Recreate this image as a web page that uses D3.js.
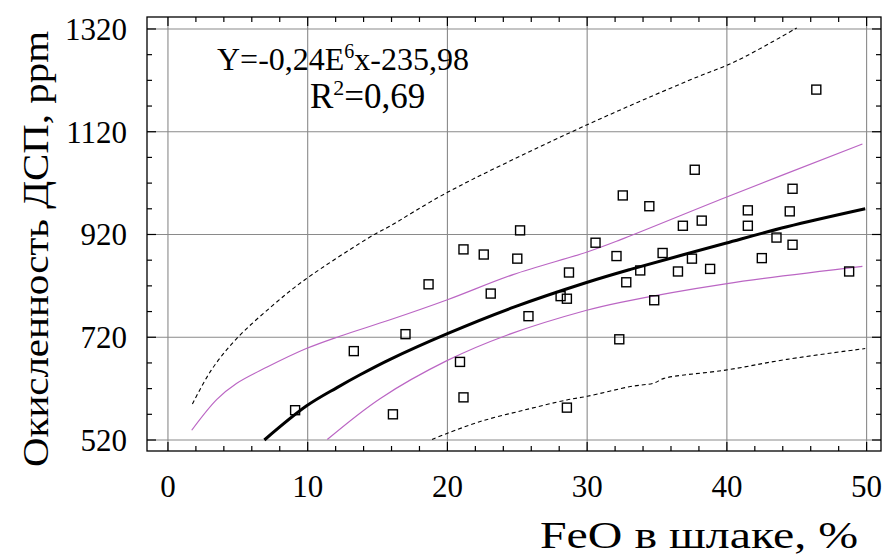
<!DOCTYPE html>
<html lang="ru">
  <head>
    <meta charset="utf-8" />
    <title>Окисленность ДСП</title>
    <script src="https://d3js.org/d3.v7.min.js"></script>
    <style>
      body { margin: 0; background: #fff; }
      svg { display: block; font-family: "Liberation Serif", "Times New Roman", serif; }
    </style>
  </head>
  <body>
    <div id="chart"></div>
    <script>
      // observed points: FeO in slag (%) and oxidation (ppm)
      const feo = [9.1, 13.3, 16.1, 17.0, 18.65, 20.9, 21.15, 21.15, 22.6, 23.1,
        25.0, 25.2, 25.8, 28.1, 28.55, 28.55, 28.7, 30.6, 32.1, 32.3,
        32.55, 32.8, 33.8, 34.45, 34.8, 35.4, 36.5, 36.85, 37.5, 37.7,
        38.2, 38.8, 41.5, 41.5, 42.5, 43.55, 44.5, 44.7, 44.7, 46.4, 48.75];
      const ppm = [578, 693, 570, 726, 823, 672, 603, 891, 881, 805,
        873, 928, 761, 800, 795, 583, 846, 904, 878, 716,
        996, 827, 850, 975, 792, 884, 848, 937, 873, 1046,
        947, 853, 967, 937, 874, 914, 965, 1009, 900, 1202, 848];

      // regression line and bands
      const fitLine = [[6.9, 520], [9.9, 586], [12.1, 622], [13.75, 647], [15.9, 677], [20, 727],
        [24.7, 778], [29.9, 826], [33.1, 852], [39.9, 903], [44.3, 935], [49.9, 970]];
      const confUpper = [[1.7, 539], [3.5, 599], [4.9, 630], [7.1, 662], [9.9, 698], [12.3, 722],
        [15.9, 754], [20, 793], [24.7, 842], [30, 886], [32.4, 910], [39.9, 992], [49.7, 1096]];
      const confLower = [[11.4, 521], [15.2, 601], [20, 675], [24.25, 724], [29.9, 772],
        [32.4, 788], [39.9, 824], [49.7, 858]];
      const predUpper = [[1.75, 590], [3.1, 656], [4.9, 717], [7.5, 782], [9.8, 832], [14.7, 919],
        [15.8, 935], [20, 1002], [27.5, 1102], [32.5, 1164], [37.2, 1219], [40.7, 1258], [45, 1322]];
      const predLower = [[18.9, 521], [20, 533], [22.35, 556], [25.45, 578], [28.55, 598], [30, 605],
        [33.1, 624], [34.8, 631], [35.5, 640], [39.9, 656], [44.3, 677], [49.9, 698]];

      const xTicks = [0, 10, 20, 30, 40, 50];
      const yTicks = [520, 720, 920, 1120, 1320];
      const xMinor = d3.range(0, 51, 2);
      const yMinor = d3.range(520, 1321, 50);

      const width = 885;
      const height = 557;
      const plotLeft = 147, plotRight = 881, plotTop = 17, plotBottom = 451;

      const x = d3.scaleLinear().domain([-1.5, 51.03]).range([plotLeft, plotRight]);
      const y = d3.scaleLinear().domain([498.6, 1343.3]).range([plotBottom, plotTop]);

      const svg = d3.select("#chart").append("svg")
        .attr("width", width).attr("height", height);

      svg.append("clipPath").attr("id", "plot")
        .append("rect")
        .attr("x", plotLeft).attr("y", plotTop)
        .attr("width", plotRight - plotLeft).attr("height", plotBottom - plotTop);

      // grid
      const grid = svg.append("g").attr("stroke", "#8a8a8a").attr("stroke-width", 1.1);
      grid.selectAll(".gx").data(xTicks).join("line")
        .attr("x1", d => x(d)).attr("x2", d => x(d))
        .attr("y1", plotTop).attr("y2", plotBottom);
      grid.selectAll(".gy").data(yTicks).join("line")
        .attr("y1", d => y(d)).attr("y2", d => y(d))
        .attr("x1", plotLeft).attr("x2", plotRight);

      // ticks on all four sides, pointing inward
      const tk = svg.append("g").attr("stroke", "#000").attr("stroke-width", 1.2);
      const tickLen = (v, majors) => (majors.includes(v) ? 9 : 5);
      tk.selectAll(".tb").data(xMinor).join("line")
        .attr("x1", d => x(d)).attr("x2", d => x(d))
        .attr("y1", plotBottom).attr("y2", d => plotBottom - tickLen(d, xTicks));
      tk.selectAll(".tt").data(xMinor).join("line")
        .attr("x1", d => x(d)).attr("x2", d => x(d))
        .attr("y1", plotTop).attr("y2", d => plotTop + tickLen(d, xTicks));
      tk.selectAll(".tl").data(yMinor).join("line")
        .attr("y1", d => y(d)).attr("y2", d => y(d))
        .attr("x1", plotLeft).attr("x2", d => plotLeft + tickLen(d, yTicks));
      tk.selectAll(".tr").data(yMinor).join("line")
        .attr("y1", d => y(d)).attr("y2", d => y(d))
        .attr("x1", plotRight).attr("x2", d => plotRight - tickLen(d, yTicks));

      // curves
      const line = d3.line().x(d => x(d[0])).y(d => y(d[1])).curve(d3.curveCatmullRom);
      const curves = svg.append("g").attr("clip-path", "url(#plot)").attr("fill", "none");
      curves.append("path").datum(predUpper).attr("d", line)
        .attr("stroke", "#000").attr("stroke-width", 1.1).attr("stroke-dasharray", "4,3");
      curves.append("path").datum(predLower).attr("d", line)
        .attr("stroke", "#000").attr("stroke-width", 1.1).attr("stroke-dasharray", "4,3");
      curves.append("path").datum(confUpper).attr("d", line)
        .attr("stroke", "#bb66c4").attr("stroke-width", 1.2);
      curves.append("path").datum(confLower).attr("d", line)
        .attr("stroke", "#bb66c4").attr("stroke-width", 1.2);
      curves.append("path").datum(fitLine).attr("d", line)
        .attr("stroke", "#000").attr("stroke-width", 3);

      // points
      const sq = 9;
      svg.append("g").selectAll("rect").data(feo).join("rect")
        .attr("x", d => x(d) - sq / 2)
        .attr("y", (d, i) => y(ppm[i]) - sq / 2)
        .attr("width", sq).attr("height", sq)
        .attr("fill", "none").attr("stroke", "#000").attr("stroke-width", 1.4);

      // frame
      svg.append("rect")
        .attr("x", plotLeft).attr("y", plotTop)
        .attr("width", plotRight - plotLeft).attr("height", plotBottom - plotTop)
        .attr("fill", "none").attr("stroke", "#000").attr("stroke-width", 1.3);

      // tick labels
      svg.append("g").selectAll("text").data(xTicks).join("text")
        .attr("x", d => x(d)).attr("y", 497)
        .attr("text-anchor", "middle").attr("font-size", 31)
        .text(d => d);
      svg.append("g").selectAll("text").data(yTicks).join("text")
        .attr("x", 127).attr("y", d => y(d) + 11)
        .attr("text-anchor", "end").attr("font-size", 31)
        .text(d => d);

      // axis titles (the source image is a little wider than the font)
      svg.append("text")
        .attr("x", 540).attr("y", 548)
        .attr("font-size", 37)
        .attr("textLength", 318).attr("lengthAdjust", "spacingAndGlyphs")
        .text("FeO в шлаке, %");
      svg.append("text")
        .attr("transform", "translate(48,467) rotate(-90)")
        .attr("font-size", 36)
        .attr("textLength", 436).attr("lengthAdjust", "spacingAndGlyphs")
        .text("Окисленность ДСП, ppm");

      // equation
      const eq = svg.append("text").attr("x", 217).attr("y", 70).attr("font-size", 32);
      eq.append("tspan").text("Y=-0,24E");
      eq.append("tspan").attr("font-size", 20).attr("dy", -12).text("6");
      eq.append("tspan").attr("dy", 12).text("x-235,98");
      const r2 = svg.append("text").attr("x", 310).attr("y", 108).attr("font-size", 35);
      r2.append("tspan").text("R");
      r2.append("tspan").attr("font-size", 22).attr("dy", -13).text("2");
      r2.append("tspan").attr("dy", 13).text("=0,69");
    </script>
  </body>
</html>
